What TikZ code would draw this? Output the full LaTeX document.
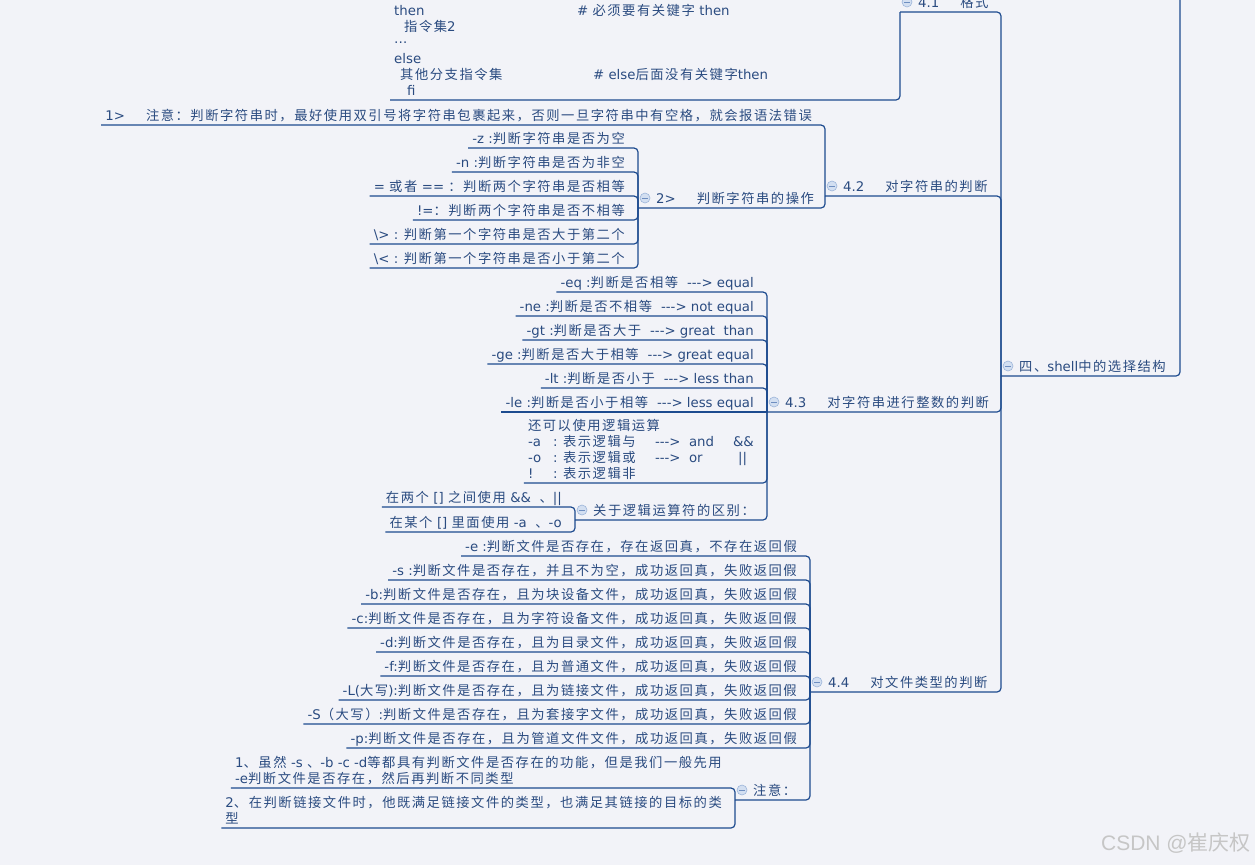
\documentclass[tikz,border=0pt]{standalone}
\usepackage{fontspec}
\setmainfont{DejaVu Sans}[Ligatures=TeXOff]
\newfontfamily\cjk{Noto Sans CJK SC}[Scale=1,LetterSpace=11.5]
\newfontfamily\wmlat{Liberation Sans}
\newfontfamily\wmcjk{Noto Sans CJK SC}
\newcommand\latin{\normalfont}
% automatic switching between Latin and CJK fonts
\newXeTeXintercharclass\cjkcls
\makeatletter
\@tempcnta="3000
\loop\XeTeXcharclass\@tempcnta=\cjkcls\ifnum\@tempcnta<"303F \advance\@tempcnta\@ne\repeat
\@tempcnta="4E00
\loop\XeTeXcharclass\@tempcnta=\cjkcls\ifnum\@tempcnta<"9FFF \advance\@tempcnta\@ne\repeat
\@tempcnta="FF00
\loop\XeTeXcharclass\@tempcnta=\cjkcls\ifnum\@tempcnta<"FFEF \advance\@tempcnta\@ne\repeat
\makeatother
\XeTeXinterchartoks 0 \cjkcls = {\cjk}
\XeTeXinterchartoks 4095 \cjkcls = {\cjk}
\XeTeXinterchartoks \cjkcls 0 = {\latin}
\XeTeXinterchartoks 4095 0 = {\latin}
\XeTeXinterchartokenstate=1
\definecolor{bg}{HTML}{F2F3F8}
\definecolor{ln}{HTML}{1D4B8F}
\definecolor{txt}{HTML}{2A4B80}
\definecolor{mkf}{HTML}{D3DFF1}
\definecolor{mkb}{HTML}{9DB5DA}
\definecolor{mkm}{HTML}{6E8EC0}
\definecolor{wm}{HTML}{C6C6C6}
\newcommand\lines[1]{\vbox{\baselineskip=16pt\lineskiplimit=-\maxdimen\lineskip=0pt #1}}
\newcommand\dsp{\hspace{9pt}}
\tikzset{
  every node/.style={font=\fontsize{13.3}{16}\selectfont, text=txt, inner sep=0pt},
  leaf/.style={anchor=base east},
  par/.style={anchor=base west},
  link/.style={draw=ln, line width=1.2pt, rounded corners=4pt},
  foldmark/.style={circle, draw=mkb, fill=mkf, minimum size=10pt, line width=0.6pt},
  foldminus/.style={draw=mkm, line width=1pt},
}
\newcommand\lc[1]{\coordinate (#1-l) at ([shift={(-4pt,-5pt)}]#1.base west);}
\newcommand\pc[1]{\coordinate (#1-l) at ([shift={(-18pt,-5pt)}]#1.base west);
  \node[foldmark] (#1-m) at ([shift={(7pt,10pt)}]#1-l) {};
  \draw[foldminus] ([xshift=-2.6pt]#1-m.center) -- ([xshift=2.6pt]#1-m.center);}
\newcommand\conn[2]{\draw[link] (#1-l) -- (#1-l -| #2-l) -- (#2-l);}
\begin{document}
\begin{tikzpicture}[x=1pt,y=-1pt]
\fill[bg] (0,0) rectangle (1255,865);
\clip (0,0) rectangle (1255,865);
% ---------- parents ----------
\node[par] (R) at (1019,371) {四、shell中的选择结构};
\node[par] (A1) at (918,7) {4.1\hspace{21pt}格式};
\node[par] (A2) at (843,191) {4.2\hspace{21pt}对字符串的判断};
\node[par] (A3) at (785,407) {4.3\hspace{21pt}对字符串进行整数的判断};
\node[par] (A4) at (828,687) {4.4\hspace{21pt}对文件类型的判断};
\node[par] (S2) at (656,203) {2>\hspace{21pt}判断字符串的操作};
\node[par] (GL) at (593,515) {关于逻辑运算符的区别：};
\node[par] (ZY) at (753,795) {注意：};
% ---------- 4.1 ----------
\node[par] (B1) at (394,95) {\lines{%
  \hbox{\makebox[183pt][l]{then}\# 必须要有关键字 then}
  \hbox{\hspace*{10pt}指令集2}
  \hbox{\raisebox{3.5pt}{…}}
  \hbox{else}
  \hbox{\makebox[199pt][l]{\hspace*{6pt}其他分支指令集}\# else后面没有关键字then}
  \hbox{\hspace*{13pt}fi}}};
% ---------- 4.2 ----------
\node[leaf] (S1) at (812,120) {1>\hspace{21pt}注意：判断字符串时，最好使用双引号将字符串包裹起来，否则一旦字符串中有空格，就会报语法错误};
\node[leaf] (s1) at (625,143) {-z :判断字符串是否为空};
\node[leaf] (s2) at (625,167) {-n :判断字符串是否为非空};
\node[leaf] (s3) at (625,191) {= 或者 == ：判断两个字符串是否相等};
\node[leaf] (s4) at (625,215) {!=：判断两个字符串是否不相等};
\node[leaf] (s5) at (625,239) {\textbackslash> : 判断第一个字符串是否大于第二个};
\node[leaf] (s6) at (625,263) {\textbackslash< : 判断第一个字符串是否小于第二个};
% ---------- 4.3 ----------
\node[leaf] (t1) at (754,287) {-eq :判断是否相等\dsp{}---> equal};
\node[leaf] (t2) at (754,311) {-ne :判断是否不相等\dsp{}---> not equal};
\node[leaf] (t3) at (754,335) {-gt :判断是否大于\dsp{}---> great\ \ than};
\node[leaf] (t4) at (754,359) {-ge :判断是否大于相等\dsp{}---> great equal};
\node[leaf] (t5) at (754,383) {-lt :判断是否小于\dsp{}---> less than};
\node[leaf] (t6) at (754,407) {-le :判断是否小于相等\dsp{}---> less equal};
\node[leaf] (t7) at (754,478) {\lines{%
  \hbox{还可以使用逻辑运算}
  \hbox{\makebox[25pt][l]{-a}\makebox[10pt][l]{:}\makebox[92pt][l]{表示逻辑与}\makebox[34pt][l]{--->}\makebox[44pt][l]{and}\&\&}
  \hbox{\makebox[25pt][l]{-o}\makebox[10pt][l]{:}\makebox[92pt][l]{表示逻辑或}\makebox[34pt][l]{--->}\makebox[49pt][l]{or}||}
  \hbox{\makebox[25pt][l]{!}\makebox[10pt][l]{:}表示逻辑非}}};
\node[leaf] (g1) at (562,502) {在两个 [] 之间使用 \&\&\ \ 、||};
\node[leaf] (g2) at (562,527) {在某个 [] 里面使用 -a\ \ 、-o};
% ---------- 4.4 ----------
\node[leaf] (f1) at (797,551) {-e :判断文件是否存在，存在返回真，不存在返回假};
\node[leaf] (f2) at (797,575) {-s :判断文件是否存在，并且不为空，成功返回真，失败返回假};
\node[leaf] (f3) at (797,599) {-b:判断文件是否存在，且为块设备文件，成功返回真，失败返回假};
\node[leaf] (f4) at (797,623) {-c:判断文件是否存在，且为字符设备文件，成功返回真，失败返回假};
\node[leaf] (f5) at (797,647) {-d:判断文件是否存在，且为目录文件，成功返回真，失败返回假};
\node[leaf] (f6) at (797,671) {-f:判断文件是否存在，且为普通文件，成功返回真，失败返回假};
\node[leaf] (f7) at (797,695) {-L(大写):判断文件是否存在，且为链接文件，成功返回真，失败返回假};
\node[leaf] (f8) at (797,719) {-S（大写）:判断文件是否存在，且为套接字文件，成功返回真，失败返回假};
\node[leaf] (f9) at (797,743) {-p:判断文件是否存在，且为管道文件文件，成功返回真，失败返回假};
\node[leaf] (n1) at (722,783) {\lines{%
  \hbox{1、虽然 -s 、-b -c -d等都具有判断文件是否存在的功能，但是我们一般先用}
  \hbox{-e判断文件是否存在，然后再判断不同类型}}};
\node[leaf] (n2) at (722,823) {\lines{%
  \hbox{2、在判断链接文件时，他既满足链接文件的类型，也满足其链接的目标的类}
  \hbox{型}}};
% ---------- anchor coordinates and markers ----------
\pc{R}\pc{A1}\pc{A2}\pc{A3}\pc{A4}\pc{S2}\pc{GL}\pc{ZY}
\lc{B1}\lc{S1}
\lc{s1}\lc{s2}\lc{s3}\lc{s4}\lc{s5}\lc{s6}
\lc{t1}\lc{t2}\lc{t3}\lc{t4}\lc{t5}\lc{t6}\lc{t7}\lc{g1}\lc{g2}
\lc{f1}\lc{f2}\lc{f3}\lc{f4}\lc{f5}\lc{f6}\lc{f7}\lc{f8}\lc{f9}\lc{n1}\lc{n2}
\coordinate (top) at (1180,-30);
% ---------- connectors ----------
\draw[link] (R-l) -- (R-l -| top) -- (top);
\conn{A1}{R}\conn{A2}{R}\conn{A3}{R}\conn{A4}{R}
\conn{B1}{A1}
\conn{S1}{A2}\conn{S2}{A2}
\conn{s1}{S2}\conn{s2}{S2}\conn{s3}{S2}\conn{s4}{S2}\conn{s5}{S2}\conn{s6}{S2}
\conn{t1}{A3}\conn{t2}{A3}\conn{t3}{A3}\conn{t4}{A3}\conn{t5}{A3}
\draw[link] (t6-l) -- (A3-l);
\conn{t7}{A3}\conn{GL}{A3}
\conn{g1}{GL}\conn{g2}{GL}
\conn{f1}{A4}\conn{f2}{A4}\conn{f3}{A4}\conn{f4}{A4}\conn{f5}{A4}\conn{f6}{A4}\conn{f7}{A4}\conn{f8}{A4}\conn{f9}{A4}\conn{ZY}{A4}
\conn{n1}{ZY}\conn{n2}{ZY}
% ---------- watermark ----------
\node[anchor=base east, text=wm, font=\fontsize{21}{24}\selectfont] (wm) at (1251,850)
  {\XeTeXinterchartokenstate=0 \wmlat CSDN @\wmcjk 崔庆权};
\end{tikzpicture}
\end{document}
